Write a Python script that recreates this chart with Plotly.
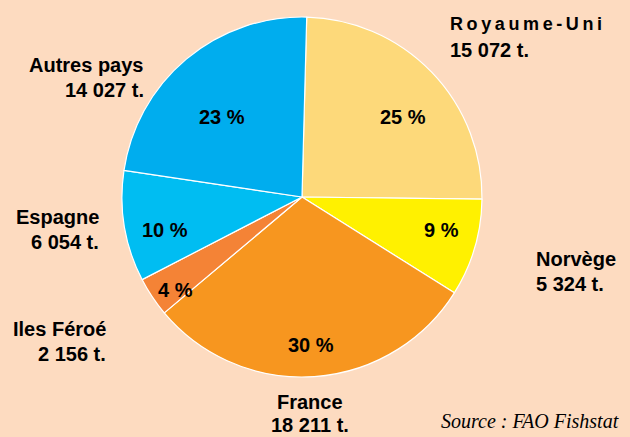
import plotly.graph_objects as go

countries = ["Royaume-Uni", "Norvège", "France", "Iles Féroé", "Espagne", "Autres pays"]
tonnes = [15072, 5324, 18211, 2156, 6054, 14027]
colors = ["#FDD97A", "#FFF100", "#F7961F", "#F48336", "#00BDF2", "#00ADEE"]

BG = "#FDDBC0"
FONT = "Liberation Sans, Arial, sans-serif"

total = sum(tonnes)
pct_labels = [f"{round(100 * v / total)} %" for v in tonnes]

fig = go.Figure(go.Pie(
    labels=countries,
    values=tonnes,
    textinfo="none",
    sort=False,
    direction="clockwise",
    rotation=1.5,
    marker=dict(colors=colors, line=dict(color="white", width=1.2)),
    domain=dict(x=[122/630, 482/630], y=[60/437, 420/437]),
    showlegend=False,
    hoverinfo="label+value+percent",
))

def fmt(v):
    return f"{v:,}".replace(",", " ") + " t."

ann_font = dict(family=FONT, size=20, color="black", weight="bold")

# outside labels: (index, x, y_top, align/xanchor, line gap)
outer = [
    (0, 448, 12, "left", 25),
    (1, 534, 246, "left", 25),
    (2, 310, 389, "center", 23),
    (3, 108, 316, "right", 25),
    (4, 101, 204, "right", 25),
    (5, 146, 52, "right", 25),
]
# percentage label centres (pixels)
pct_pos = [(403, 117), (441, 230), (311, 345), (175, 290), (165, 230), (222, 117)]

annotations = []
for idx, x, ytop, xa, gap in outer:
    name = countries[idx]
    if name == "Royaume-Uni":
        name = "\u2009".join(list(name))
        nf = dict(ann_font, size=18)
    else:
        nf = ann_font
    annotations.append(dict(x=x, y=ytop, text=name, xanchor=xa, yanchor="top", align=xa, font=nf))
    annotations.append(dict(x=x, y=ytop + gap, text=fmt(tonnes[idx]), xanchor=xa, yanchor="top",
                            align=xa, font=ann_font))

for lab, (x, y) in zip(pct_labels, pct_pos):
    annotations.append(dict(x=x, y=y, text=lab, xanchor="center", yanchor="middle",
                            font=dict(ann_font, size=20)))

for a in annotations:
    a.update(xref="paper", yref="paper", showarrow=False)
    a["x"] = a["x"] / 630
    a["y"] = 1 - a["y"] / 437

annotations.append(dict(x=621/630, y=1 - 434/437, xref="paper", yref="paper",
                        text="<i>Source : FAO Fishstat</i>", showarrow=False,
                        xanchor="right", yanchor="bottom",
                        font=dict(family="Liberation Serif, Times New Roman, serif", size=20, color="black")))

fig.update_layout(
    width=630, height=437,
    margin=dict(l=0, r=0, t=0, b=0),
    paper_bgcolor=BG, plot_bgcolor=BG,
    annotations=annotations,
)

fig.write_html("out.html", config={"displayModeBar": False},
               post_script="document.body.style.margin='0';document.body.style.background='" + BG + "';")
